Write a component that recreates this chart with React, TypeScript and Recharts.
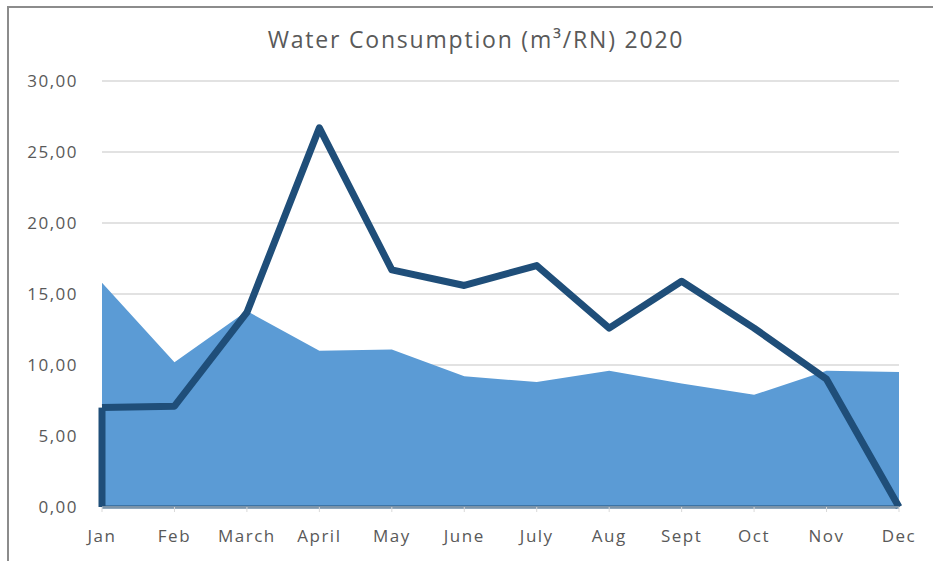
import { Area, CartesianGrid, ComposedChart, ReferenceLine, XAxis, YAxis } from 'recharts';

const months = ['Jan', 'Feb', 'March', 'April', 'May', 'June', 'July', 'Aug', 'Sept', 'Oct', 'Nov', 'Dec'];
const areaValues = [15.8, 10.2, 13.8, 11.0, 11.1, 9.2, 8.8, 9.6, 8.7, 7.9, 9.6, 9.5];
const lineValues = [7.0, 7.1, 13.7, 26.7, 16.7, 15.6, 17.0, 12.6, 15.9, 12.6, 9.0, 0];
const yTicks = [0, 5, 10, 15, 20, 25, 30];

const data = months.map((month, i) => ({ month, area: areaValues[i], line: lineValues[i] }));

const LIGHT = '#5B9BD5';
const DARK = '#1F4E79';
const TEXT = '#595959';
const FONT = '"Open Sans", sans-serif';

const fmt = (v: number) => v.toFixed(2).replace('.', ',');

export default function App() {
  return (
    <div style={{ position: 'absolute', left: 0, top: 0, width: 933, height: 561, background: '#fff', overflow: 'hidden' }}>
      {/* chart frame: only top and left edges are inside the picture */}
      <div style={{ position: 'absolute', left: 7, top: 6, width: 926, height: 2, background: '#8c8c8c' }} />
      <div style={{ position: 'absolute', left: 7, top: 6, width: 2, height: 555, background: '#8c8c8c' }} />
      <div
        style={{
          position: 'absolute',
          left: 0,
          width: 952,
          top: 23,
          textAlign: 'center',
          fontFamily: FONT,
          fontSize: 23,
          letterSpacing: 1.8,
          color: TEXT,
        }}
      >
        Water Consumption (m³/RN) 2020
      </div>
      <div style={{ position: 'absolute', left: 0, top: 0 }}>
        <ComposedChart width={933} height={561} data={data} margin={{ top: 81, right: 34, left: 0, bottom: 24 }}>
          <CartesianGrid vertical={false} stroke="#d9d9d9" strokeWidth={1.5} />
          <XAxis
            dataKey="month"
            tickSize={5}
            tickMargin={18}
            stroke="#d9d9d9"
            tick={{ fill: TEXT, fontSize: 17, fontFamily: FONT, letterSpacing: 1.5 }}
          />
          <YAxis
            domain={[0, 30]}
            ticks={yTicks}
            width={102}
            axisLine={false}
            tickLine={false}
            tickSize={0}
            tickMargin={24}
            tickFormatter={fmt}
            tick={{ fill: TEXT, fontSize: 17, fontFamily: FONT, letterSpacing: 1.5 }}
          />
          <Area dataKey="area" type="linear" fill={LIGHT} fillOpacity={1} stroke="none" isAnimationActive={false} />
          <ReferenceLine y={0} stroke={DARK} strokeWidth={3} />
          <ReferenceLine
            segment={[
              { x: months[0], y: 0 },
              { x: months[0], y: lineValues[0] },
            ]}
            stroke={DARK}
            strokeWidth={7}
            ifOverflow="visible"
          />
          <Area
            dataKey="line"
            type="linear"
            fill="none"
            stroke={DARK}
            strokeWidth={7}
            strokeLinejoin="round"
            dot={false}
            activeDot={false}
            isAnimationActive={false}
          />
        </ComposedChart>
      </div>
    </div>
  );
}
